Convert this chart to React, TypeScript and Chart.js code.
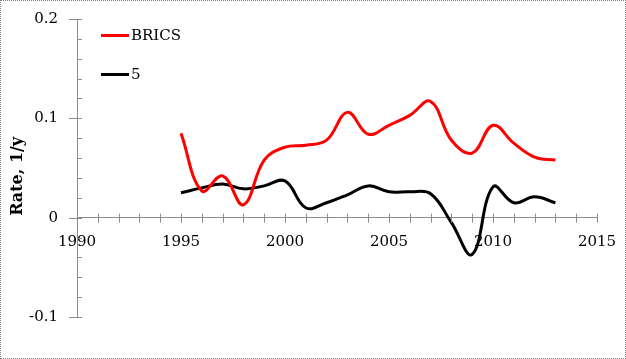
import React, { useEffect, useRef } from "react";
import { Chart, registerables } from "chart.js";

Chart.register(...registerables);

const years = [1995, 1996, 1997, 1998, 1999, 2000, 2001, 2002, 2003, 2004, 2005, 2006, 2007, 2008, 2009, 2010, 2011, 2012, 2013];
const bricsValues = [0.085, 0.027, 0.042, 0.013, 0.058, 0.071, 0.073, 0.078, 0.106, 0.084, 0.093, 0.103, 0.117, 0.078, 0.065, 0.093, 0.075, 0.061, 0.058];
const fiveValues = [0.025, 0.030, 0.034, 0.029, 0.032, 0.037, 0.010, 0.015, 0.023, 0.032, 0.026, 0.026, 0.024, -0.005, -0.037, 0.031, 0.015, 0.021, 0.015];
const seriesNames = ["BRICS", "5"];
const seriesColors = ["#ff0000", "#000000"];
const xMin = 1990;
const xMax = 2015;
const yMin = -0.1;
const yMax = 0.2;
const yTitle = "Rate, 1/y   ";

const FONT = "'DejaVu Serif', serif";
const AXIS_COLOR = "#8c8c8c";

const isMajorY = (v: number) => Math.abs(v * 10 - Math.round(v * 10)) < 1e-6;

const tickMarks = {
  id: "tickMarks",
  afterDraw(chart: any) {
    const ctx = chart.ctx;
    const xs = chart.scales.x;
    const ys = chart.scales.y;
    const y0 = ys.getPixelForValue(0);
    const xAxis = xs.getPixelForValue(xMin);
    ctx.save();
    ctx.strokeStyle = AXIS_COLOR;
    ctx.lineWidth = 1;
    ctx.beginPath();
    xs.ticks.forEach((t: any) => {
      const px = Math.round(xs.getPixelForValue(t.value)) + 0.5;
      ctx.moveTo(px, y0 - 4);
      ctx.lineTo(px, y0 + 5);
    });
    ys.ticks.forEach((t: any) => {
      const py = Math.round(ys.getPixelForValue(t.value)) + 0.5;
      const major = isMajorY(t.value);
      ctx.moveTo(xAxis - (major ? 8 : 0), py);
      ctx.lineTo(xAxis + 5, py);
    });
    ctx.stroke();
    ctx.restore();
  },
};

const innerLegend = {
  id: "innerLegend",
  afterDraw(chart: any) {
    const ctx = chart.ctx;
    const area = chart.chartArea;
    ctx.save();
    chart.data.datasets.forEach((ds: any, i: number) => {
      const y = area.top + 16 + i * 39;
      const x = area.left + 24;
      ctx.strokeStyle = ds.borderColor;
      ctx.lineWidth = 3;
      ctx.beginPath();
      ctx.moveTo(x, y + 0.5);
      ctx.lineTo(x + 28, y + 0.5);
      ctx.stroke();
      ctx.fillStyle = "#000";
      ctx.font = `15px ${FONT}`;
      ctx.textBaseline = "middle";
      ctx.textAlign = "left";
      ctx.fillText(ds.label, x + 30, y + 1);
    });
    ctx.restore();
  },
};

export default function App() {
  const canvasRef = useRef<HTMLCanvasElement | null>(null);

  useEffect(() => {
    document.body.style.margin = "0";
    const canvas = canvasRef.current;
    if (!canvas) return;
    const chart = new Chart(canvas, {
      type: "line",
      data: {
        datasets: [
          {
            label: seriesNames[0],
            data: years.map((x, i) => ({ x, y: bricsValues[i] })),
            borderColor: seriesColors[0],
            backgroundColor: seriesColors[0],
            borderWidth: 3,
            pointRadius: 0,
            tension: 0.4,
            fill: false,
          },
          {
            label: seriesNames[1],
            data: years.map((x, i) => ({ x, y: fiveValues[i] })),
            borderColor: seriesColors[1],
            backgroundColor: seriesColors[1],
            borderWidth: 3,
            pointRadius: 0,
            tension: 0.4,
            fill: false,
          },
        ],
      },
      options: {
        animation: false,
        responsive: false,
        maintainAspectRatio: false,
        layout: { padding: { left: 0, top: 19, right: 29, bottom: 42 } },
        plugins: {
          legend: { display: false },
          tooltip: { enabled: false },
        },
        scales: {
          x: {
            type: "linear",
            min: xMin,
            max: xMax,
            position: { y: 0 } as any,
            grid: { display: false, drawOnChartArea: false, drawTicks: false },
            border: { display: true, color: AXIS_COLOR, width: 1 },
            ticks: {
              stepSize: 1,
              autoSkip: false,
              maxRotation: 0,
              padding: 15,
              color: "#000",
              font: { family: FONT, size: 15 },
              callback: (v: any) => (Number(v) % 5 === 0 ? String(v) : ""),
            },
            afterFit: (scale: any) => {
              scale.paddingLeft = 0;
              scale.paddingRight = 0;
            },
          },
          y: {
            type: "linear",
            min: yMin,
            max: yMax,
            position: "left",
            grid: { display: false, drawOnChartArea: false, drawTicks: false },
            border: { display: true, color: AXIS_COLOR, width: 1 },
            ticks: {
              stepSize: 0.02,
              autoSkip: false,
              padding: 19,
              color: "#000",
              font: { family: FONT, size: 15 },
              callback: (v: any) => {
                const n = Number(v);
                if (!isMajorY(n)) return "";
                const r = Math.round(n * 10) / 10;
                return r === 0 ? "0" : String(r);
              },
            },
            title: {
              display: true,
              text: yTitle,
              color: "#000",
              font: { family: FONT, size: 16, weight: "bold" },
              padding: { top: 8, bottom: 0 },
            },
            afterFit: (scale: any) => {
              scale.width = 77;
              scale.paddingTop = 9;
              scale.paddingBottom = 9;
            },
          },
        },
      },
      plugins: [tickMarks, innerLegend],
    });
    return () => chart.destroy();
  }, []);

  return (
    <div style={{ position: "absolute", left: 0, top: 0, width: 626, height: 359, background: "#fff" }}>
      <canvas ref={canvasRef} width={626} height={359} style={{ position: "absolute", left: 0, top: 0, width: 626, height: 359 }} />
      <div
        style={{
          position: "absolute",
          left: 0,
          top: 0,
          width: 626,
          height: 359,
          boxSizing: "border-box",
          border: "1px dotted #808080",
          pointerEvents: "none",
        }}
      />
    </div>
  );
}
